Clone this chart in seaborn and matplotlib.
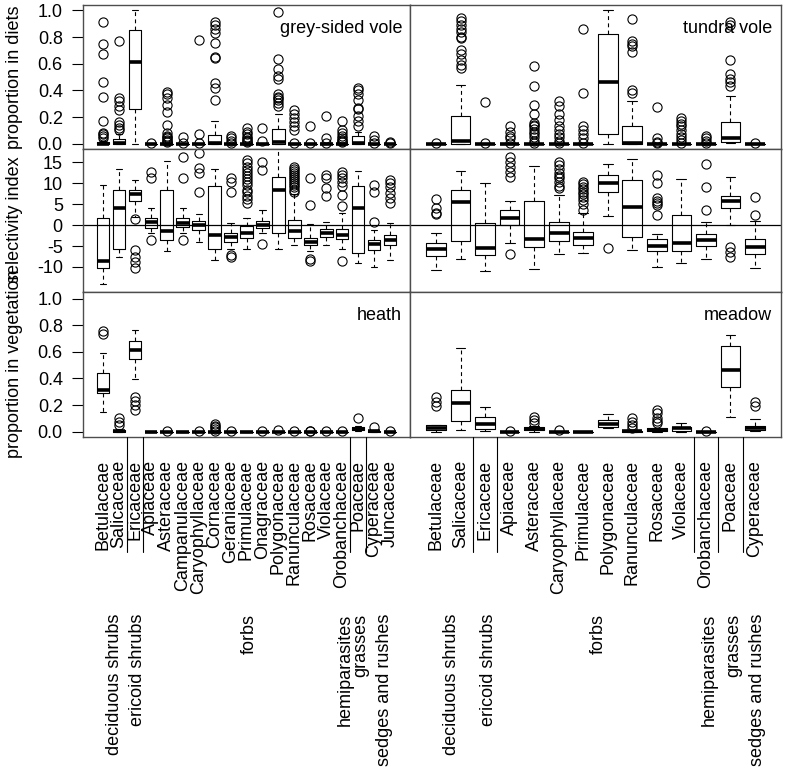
import numpy as np
import matplotlib
matplotlib.use("Agg")
import matplotlib.pyplot as plt
import matplotlib.transforms as mtransforms
from matplotlib.lines import Line2D
import seaborn as sns

# ---------------- data ----------------
left_families = ["Betulaceae", "Salicaceae", "Ericaceae", "Apiaceae", "Asteraceae",
                 "Campanulaceae", "Caryophyllaceae", "Cornaceae", "Geraniaceae",
                 "Primulaceae", "Onagraceae", "Polygonaceae", "Ranunculaceae",
                 "Rosaceae", "Violaceae", "Orobanchaceae", "Poaceae", "Cyperaceae",
                 "Juncaceae"]
right_families = ["Betulaceae", "Salicaceae", "Ericaceae", "Apiaceae", "Asteraceae",
                  "Caryophyllaceae", "Primulaceae", "Polygonaceae", "Ranunculaceae",
                  "Rosaceae", "Violaceae", "Orobanchaceae", "Poaceae", "Cyperaceae"]

group_names = ["deciduous shrubs", "ericoid shrubs", "forbs", "hemiparasites",
               "grasses", "sedges and rushes"]
left_group_first = [1, 3, 4, 16, 17, 18]
left_group_last = [2, 3, 16, 16, 17, 19]
right_group_first = [1, 3, 4, 12, 13, 14]
right_group_last = [2, 3, 11, 12, 13, 14]

# grey-sided vole: proportion in diets
gsv_diet_q1 = [0, 0, 0.26, 0, 0, 0, 0, 0, 0, 0, 0, 0, 0, 0, 0, 0, 0, 0, 0]
gsv_diet_med = [0, 0.005, 0.61, 0, 0, 0, 0, 0.005, 0, 0, 0, 0.01, 0, 0, 0, 0, 0.005, 0, 0]
gsv_diet_q3 = [0.01, 0.037, 0.85, 0, 0, 0, 0, 0.065, 0, 0, 0, 0.11, 0, 0, 0, 0, 0.055, 0, 0]
gsv_diet_lo = [0, 0, 0, 0, 0, 0, 0, 0, 0, 0, 0, 0, 0, 0, 0, 0, 0, 0, 0]
gsv_diet_hi = [0.02, 0.07, 1.0, 0, 0, 0, 0, 0.17, 0, 0, 0, 0.22, 0, 0, 0, 0, 0.09, 0, 0]
gsv_diet_out = [
    [0.91, 0.75, 0.67, 0.46, 0.35, 0.17, 0.08, 0.07, 0.06, 0.04],
    [0.77, 0.34, 0.32, 0.28, 0.25, 0.16, 0.14, 0.12, 0.105],
    [],
    [0.003],
    [0.385, 0.37, 0.34, 0.29, 0.24, 0.14, 0.08, 0.06, 0.05, 0.04, 0.03, 0.02, 0.01],
    [0.048, 0.003],
    [0.78, 0.07, 0.003],
    [0.91, 0.89, 0.86, 0.83, 0.755, 0.65, 0.64, 0.455, 0.42, 0.325],
    [0.06, 0.04, 0.02, 0.003],
    [0.12, 0.09, 0.07, 0.05, 0.04, 0.03, 0.02, 0.01],
    [0.12, 0.02],
    [0.99, 0.635, 0.56, 0.505, 0.485, 0.37, 0.35, 0.34, 0.325, 0.305, 0.28],
    [0.25, 0.22, 0.19, 0.16, 0.13, 0.105, 0.003],
    [0.13, 0.003],
    [0.205, 0.04, 0.003],
    [0.17, 0.1, 0.08, 0.06, 0.04, 0.03, 0.02, 0.01],
    [0.42, 0.40, 0.37, 0.33, 0.27, 0.26, 0.21, 0.17, 0.135],
    [0.06, 0.03, 0.003],
    [0.01, 0.003],
]

# tundra vole: proportion in diets
tv_diet_q1 = [0, 0, 0, 0, 0, 0, 0, 0.07, 0, 0, 0, 0, 0.01, 0]
tv_diet_med = [0, 0.02, 0, 0, 0, 0, 0, 0.465, 0.003, 0, 0, 0, 0.04, 0]
tv_diet_q3 = [0, 0.21, 0, 0, 0, 0, 0, 0.82, 0.13, 0, 0, 0, 0.165, 0]
tv_diet_lo = [0, 0, 0, 0, 0, 0, 0, 0, 0, 0, 0, 0, 0.003, 0]
tv_diet_hi = [0, 0.44, 0, 0, 0, 0, 0, 1.0, 0.32, 0, 0, 0, 0.355, 0]
tv_diet_out = [
    [0.003],
    [0.94, 0.92, 0.89, 0.86, 0.84, 0.8, 0.79, 0.705, 0.67, 0.625, 0.59, 0.57],
    [0.31, 0.003],
    [0.135, 0.09, 0.06, 0.04, 0.003],
    [0.58, 0.43, 0.29, 0.22, 0.155, 0.14, 0.13, 0.11, 0.09, 0.07, 0.05, 0.02, 0.003],
    [0.32, 0.28, 0.225, 0.18, 0.13, 0.1, 0.07, 0.05, 0.02, 0.003],
    [0.86, 0.38, 0.13, 0.1, 0.07, 0.04, 0.003],
    [],
    [0.935, 0.77, 0.75, 0.73, 0.69, 0.405, 0.38],
    [0.275, 0.04, 0.01, 0.003],
    [0.19, 0.17, 0.15, 0.13, 0.1, 0.07, 0.05, 0.03, 0.003],
    [0.06, 0.04, 0.02, 0.003],
    [0.91, 0.89, 0.63, 0.525, 0.485, 0.46, 0.43],
    [0.003],
]

# grey-sided vole: selectivity index
gsv_sel_q1 = [-10.2, -5.6, 5.7, -0.7, -3.6, -0.4, -1.2, -5.8, -4.0, -3.2, -0.8, -2.0,
              -3.2, -4.8, -2.8, -3.4, -6.7, -6.0, -4.8]
gsv_sel_med = [-8.6, 4.0, 7.4, 0.8, -1.5, 0.6, 0.0, -2.4, -2.8, -2.0, 0.1, 8.5,
               -1.5, -4.0, -1.9, -2.3, 4.1, -4.6, -3.5]
gsv_sel_q3 = [1.6, 8.4, 8.5, 1.6, 8.5, 1.6, 0.9, 9.3, -2.0, -0.3, 0.9, 11.6,
              1.2, -3.0, -1.0, -1.0, 9.3, -3.6, -2.3]
gsv_sel_lo = [-14.0, -7.6, 2.0, -1.8, -6.1, -1.8, -4.0, -8.4, -5.6, -5.6, -2.0, -5.8,
              -4.7, -6.3, -4.7, -5.8, -9.0, -10.0, -8.4]
gsv_sel_hi = [9.6, 13.4, 10.9, 4.0, 15.4, 4.0, 2.6, 13.4, 0.6, 1.6, 3.6, 20.0,
              7.5, 0.2, 0.8, 2.8, 12.9, -1.2, 0.6]
gsv_sel_out = [
    [],
    [],
    [1.4, -5.9, -7.6, -8.8, -10.2],
    [12.6, 11.2, -3.6],
    [],
    [16.2, 11.2, -3.6],
    [17.2, 13.7, 12.4, 7.8],
    [],
    [11.2, 10.4, 7.8, -7.2, -7.6],
    [15.6, 14.8, 14.0, 13.2, 12.5, 11.8, 11.0, 10.2, 9.5, 8.5, 7.8, 7.0, 6.2, 5.4],
    [15.0, 13.2, -4.6],
    [],
    [13.9, 13.5, 13.0, 12.5, 12.0, 11.5, 11.0, 10.5, 10.0, 9.5, 9.0, 8.5, 8.0],
    [11.2, 4.9, -8.2, -8.6],
    [12.1, 11.3, 8.9, 6.9],
    [12.8, 12.1, 11.2, 10.2, 9.4, 7.2, 4.5, -8.6],
    [],
    [9.7, 8.0, 0.8],
    [10.8, 10.0, 9.2, 7.6, 6.4, 5.3],
]

# tundra vole: selectivity index
tv_sel_q1 = [-7.4, -3.8, -7.2, 0.0, -5.2, -3.8, -4.7, 7.8, -2.8, -6.2, -6.2, -5.0, 4.2, -6.8]
tv_sel_med = [-5.8, 5.6, -5.4, 1.7, -3.4, -2.0, -3.0, 10.0, 4.4, -5.0, -4.2, -3.6, 5.7, -5.2]
tv_sel_q3 = [-4.2, 8.4, 0.6, 3.7, 5.8, 0.8, -1.6, 12.1, 10.8, -3.4, 2.5, -2.2, 7.0, -3.4]
tv_sel_lo = [-10.8, -8.2, -11.0, -4.4, -10.4, -6.8, -6.7, 2.1, -6.0, -10.0, -9.0, -8.0, 0.0, -10.2]
tv_sel_hi = [-2.0, 12.9, 10.0, 5.7, 14.1, 7.3, 2.8, 14.5, 15.8, -2.2, 11.0, 0.8, 11.4, 1.0]
tv_sel_out = [
    [6.2, 4.0, 3.0, 2.6],
    [],
    [],
    [16.4, 15.2, 14.0, 12.8, 11.6, -7.0],
    [],
    [15.0, 14.4, 13.4, 12.5, 11.8, 11.2, 10.4, 9.4, 8.8],
    [10.4, 9.8, 9.2, 8.6, 8.0, 7.4, 6.8, 6.0, 5.0, 3.6],
    [-5.4],
    [],
    [12.0, 10.0, 6.4, 5.7, 5.2, 4.9, 2.4],
    [],
    [14.6, 9.2, 3.7],
    [-5.2, -6.4, -7.6],
    [6.8, 2.4],
]

# heath: proportion in vegetation
heath_q1 = [0.2875, 0.0, 0.545, 0, 0, 0, 0, 0, 0, 0, 0, 0, 0, 0, 0, 0, 0.0125, 0.0, 0]
heath_med = [0.31, 0.005, 0.6125, 0, 0, 0, 0, 0, 0, 0, 0, 0, 0, 0, 0, 0, 0.02, 0.005, 0]
heath_q3 = [0.4375, 0.012, 0.68, 0, 0, 0, 0, 0, 0, 0, 0, 0, 0, 0, 0, 0, 0.035, 0.008, 0]
heath_lo = [0.15, 0, 0.395, 0, 0, 0, 0, 0, 0, 0, 0, 0, 0, 0, 0, 0, 0.005, 0, 0]
heath_hi = [0.59, 0.02, 0.7625, 0, 0, 0, 0, 0, 0, 0, 0, 0, 0, 0, 0, 0, 0.045, 0.01, 0]
heath_out = [
    [0.7575, 0.735],
    [0.1, 0.075, 0.05],
    [0.26, 0.23, 0.2, 0.165],
    [],
    [0.003],
    [],
    [0.003],
    [0.057, 0.045, 0.035, 0.02, 0.003],
    [0.003],
    [],
    [0.003],
    [0.015],
    [0.003],
    [0.008, 0.003],
    [0.003],
    [0.003],
    [0.1],
    [0.035],
    [0.003],
]

# meadow: proportion in vegetation
meadow_q1 = [0.0125, 0.08, 0.02, 0, 0.0125, 0, 0, 0.0375, 0, 0.005, 0.0075, 0, 0.3325, 0.0125]
meadow_med = [0.03, 0.2125, 0.0575, 0, 0.02, 0, 0, 0.06, 0.003, 0.012, 0.025, 0, 0.4625, 0.025]
meadow_q3 = [0.05, 0.3125, 0.1075, 0, 0.0375, 0, 0, 0.0875, 0.008, 0.025, 0.0375, 0, 0.6425, 0.0425]
meadow_lo = [0.0, 0.0125, 0.005, 0, 0, 0, 0, 0.025, 0, 0, 0, 0, 0.1075, 0.005]
meadow_hi = [0.05, 0.6325, 0.1875, 0, 0.04, 0, 0, 0.1325, 0.01, 0.03, 0.0625, 0, 0.73, 0.0925]
meadow_out = [
    [0.2575, 0.225, 0.19],
    [],
    [],
    [0.003],
    [0.11, 0.085, 0.0675],
    [0.01],
    [],
    [],
    [0.1, 0.075, 0.05, 0.025],
    [0.1625, 0.1375, 0.105, 0.0825, 0.0625],
    [],
    [0.003],
    [],
    [0.225, 0.19],
]

prop_ticks = [0.0, 0.2, 0.4, 0.6, 0.8, 1.0]
sel_ticks = [-10, -5, 0, 5, 10, 15]

# ---------------- style ----------------
sns.set_theme(style="white")
plt.rcParams["font.family"] = ["Liberation Sans", "DejaVu Sans"]
plt.rcParams["axes.unicode_minus"] = False
plt.rcParams["text.color"] = "black"
plt.rcParams["axes.labelcolor"] = "black"
plt.rcParams["xtick.color"] = "black"
plt.rcParams["ytick.color"] = "black"
FS = 13

W, H = 786, 774
fig = plt.figure(figsize=(W / 100, H / 100), dpi=100)
fig.patch.set_facecolor("white")


def add_ax(x0, y0, x1, y1):
    return fig.add_axes([x0 / W, 1 - y1 / H, (x1 - x0) / W, (y1 - y0) / H])


def stats_of(q1, med, q3, lo, hi, out):
    return [dict(q1=a, med=b, q3=c, whislo=d, whishi=e, fliers=np.asarray(f, float))
            for a, b, c, d, e, f in zip(q1, med, q3, lo, hi, out)]


def draw(ax, stats):
    n = len(stats)
    ax.bxp(stats, positions=np.arange(1, n + 1), widths=0.8, capwidths=0.4,
           showfliers=True, manage_ticks=False,
           boxprops=dict(color="black", linewidth=0.8),
           whiskerprops=dict(color="black", linewidth=0.8, linestyle=(0, (3.5, 3))),
           capprops=dict(color="black", linewidth=0.8),
           medianprops=dict(color="black", linewidth=2.6, solid_capstyle="butt"),
           flierprops=dict(marker="o", markerfacecolor="none", markeredgecolor="black",
                           markersize=6.6, markeredgewidth=0.8, linestyle="none"))
    ax.set_xlim(0.5 - 0.04 * n, n + 0.5 + 0.04 * n)
    ax.set_facecolor("white")
    for s in ax.spines.values():
        s.set_color("#4d4d4d")
        s.set_linewidth(1.0)
        s.set_visible(True)


LX0, MX, RX1 = 83, 410, 781
rows = [(5, 149), (149, 292), (292, 437)]

panels = [
    (stats_of(gsv_diet_q1, gsv_diet_med, gsv_diet_q3, gsv_diet_lo, gsv_diet_hi, gsv_diet_out),
     stats_of(tv_diet_q1, tv_diet_med, tv_diet_q3, tv_diet_lo, tv_diet_hi, tv_diet_out)),
    (stats_of(gsv_sel_q1, gsv_sel_med, gsv_sel_q3, gsv_sel_lo, gsv_sel_hi, gsv_sel_out),
     stats_of(tv_sel_q1, tv_sel_med, tv_sel_q3, tv_sel_lo, tv_sel_hi, tv_sel_out)),
    (stats_of(heath_q1, heath_med, heath_q3, heath_lo, heath_hi, heath_out),
     stats_of(meadow_q1, meadow_med, meadow_q3, meadow_lo, meadow_hi, meadow_out)),
]
ylims = [(-0.04, 1.04), (-16.0, 18.2), (-0.04, 1.05)]
titles = [("grey-sided vole", "tundra vole"), (None, None), ("heath", "meadow")]

axes = []
for r, ((y0, y1), (sl, sr), yl, (tl, tr)) in enumerate(zip(rows, panels, ylims, titles)):
    axl = add_ax(LX0, y0, MX, y1)
    axr = add_ax(MX, y0, RX1, y1)
    for ax, st, title in ((axl, sl, tl), (axr, sr, tr)):
        if r == 1:
            ax.axhline(0, color="black", linewidth=0.9, zorder=1)
        draw(ax, st)
        ax.set_ylim(*yl)
        if title:
            ax.text(0.976, 0.835, title, transform=ax.transAxes, ha="right",
                    va="center", fontsize=FS, color="black")
    if r == 1:
        axl.set_yticks(sel_ticks)
        axl.set_yticklabels([str(t) for t in sel_ticks])
    else:
        axl.set_yticks(prop_ticks)
        axl.set_yticklabels([f"{t:.1f}" for t in prop_ticks])
    axl.tick_params(axis="y", left=True, length=8, width=0.8, color="black",
                    pad=6.5, labelsize=FS, labelcolor="black")
    axr.set_yticks([])
    axes.append((axl, axr))

# x labels on bottom row
for ax, fams in ((axes[2][0], left_families), (axes[2][1], right_families)):
    ax.set_xticks(np.arange(1, len(fams) + 1))
    ax.set_xticklabels(fams, rotation=90, fontsize=FS)
    ax.tick_params(axis="x", bottom=True, length=0, pad=16.5, labelcolor="black")
for r in range(2):
    for ax in axes[r]:
        ax.set_xticks([])

# group separators and group labels
y_top_line = 1 - 437 / H
y_bot_line = 1 - 552 / H
y_group = 1 - 614 / H
for ax, firsts, lasts in ((axes[2][0], left_group_first, left_group_last),
                          (axes[2][1], right_group_first, right_group_last)):
    trans = mtransforms.blended_transform_factory(ax.transData, fig.transFigure)
    seps = sorted(set(l + 0.5 for l in lasts[:-1]))
    for s in seps:
        ln = Line2D([s, s], [y_bot_line, y_top_line], transform=trans, color="black",
                    linewidth=0.8, clip_on=False)
        fig.add_artist(ln)
    toff = mtransforms.offset_copy(trans, fig=fig, x=3, units="dots")
    for name, a, b in zip(group_names, firsts, lasts):
        fig.text((a + b) / 2, y_group, name, transform=toff, rotation=90,
                 ha="center", va="top", fontsize=FS, color="black")

# y axis titles (overlapping, as in the original figure)
fig.text(15 / W, 1 - 77 / H, "proportion in diets", rotation=90, ha="center",
         va="center", fontsize=FS, color="black")
fig.text(15 / W, 1 - 220 / H, "selectivity index", rotation=90, ha="center",
         va="center", fontsize=FS, color="black")
fig.text(15 / W, 1 - 364 / H, "proportion in vegetation", rotation=90, ha="center",
         va="center", fontsize=FS, color="black")

fig.savefig("out.png", dpi=100, facecolor="white")
